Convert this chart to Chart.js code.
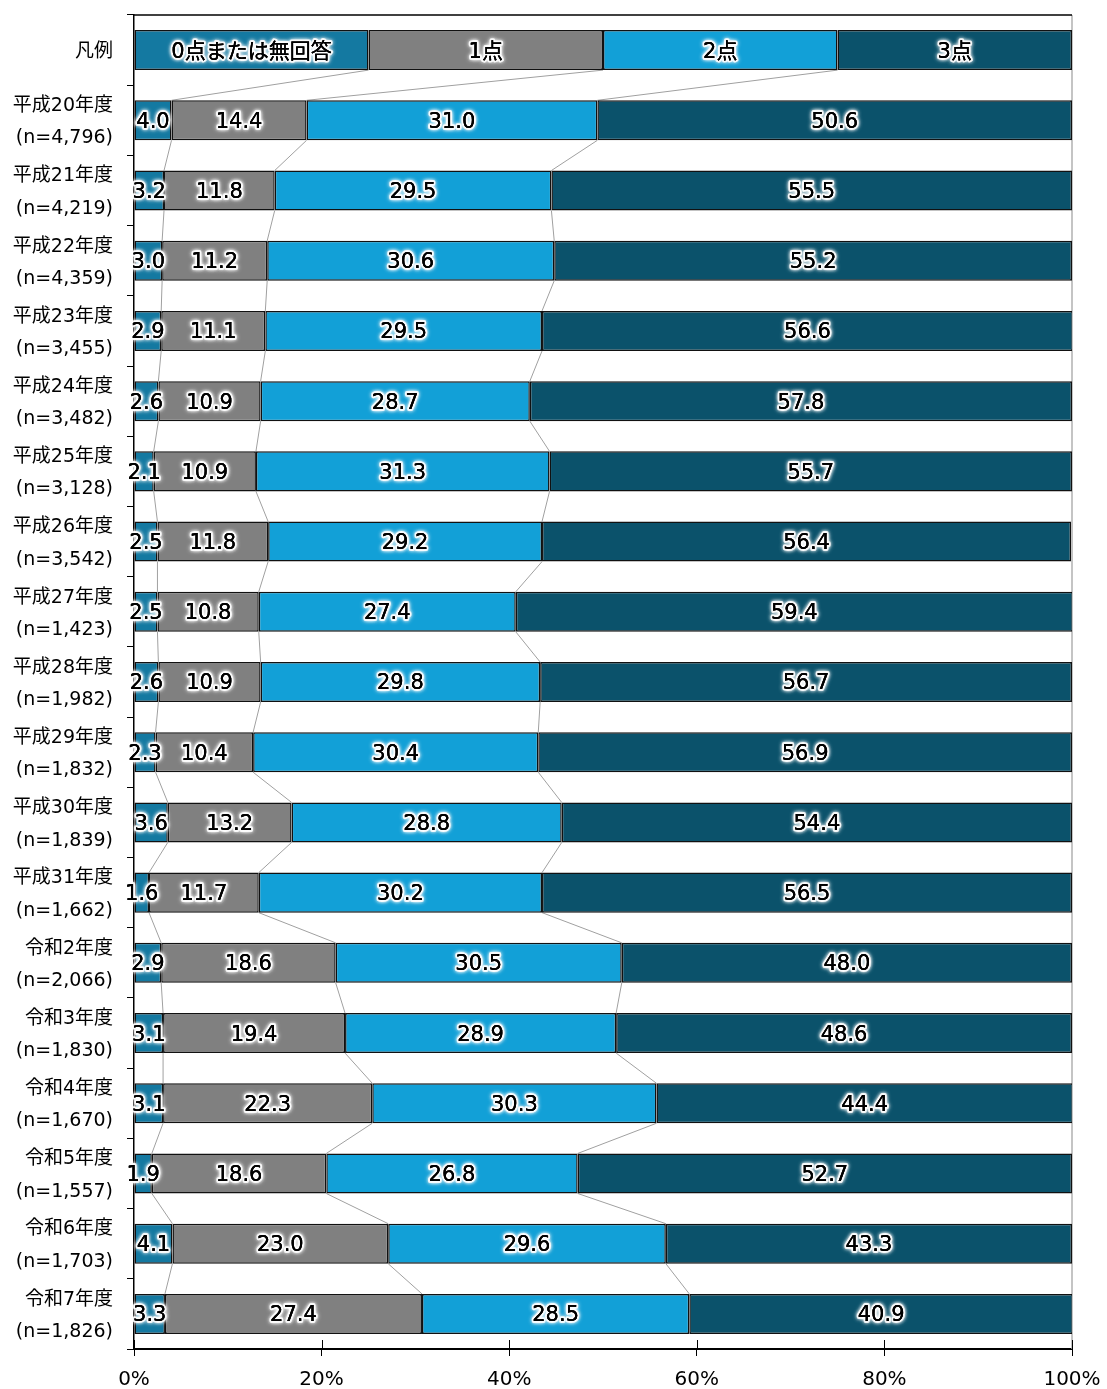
<!DOCTYPE html>
<html>
<head>
<meta charset="utf-8">
<script src="https://cdn.jsdelivr.net/npm/chart.js@4.4.0/dist/chart.umd.min.js"></script>
<style>
    body { margin: 0; background: #fff; }
</style>
</head>
<body>
<canvas id="scoreChart" width="1107" height="1389"></canvas>
<script>
// row names and sample sizes
var periods = ['平成20年度', '平成21年度', '平成22年度', '平成23年度', '平成24年度', '平成25年度',
    '平成26年度', '平成27年度', '平成28年度', '平成29年度', '平成30年度', '平成31年度',
    '令和2年度', '令和3年度', '令和4年度', '令和5年度', '令和6年度', '令和7年度'];
var sampleSizes = ['4,796', '4,219', '4,359', '3,455', '3,482', '3,128', '3,542', '1,423', '1,982',
    '1,832', '1,839', '1,662', '2,066', '1,830', '1,670', '1,557', '1,703', '1,826'];

var seriesNames = ['0点または無回答', '1点', '2点', '3点'];
var legendRowLabel = '凡例';
var legendRowValues = [25, 25, 25, 25];

var score0 = [4.0, 3.2, 3.0, 2.9, 2.6, 2.1, 2.5, 2.5, 2.6, 2.3, 3.6, 1.6, 2.9, 3.1, 3.1, 1.9, 4.1, 3.3];
var score1 = [14.4, 11.8, 11.2, 11.1, 10.9, 10.9, 11.8, 10.8, 10.9, 10.4, 13.2, 11.7, 18.6, 19.4, 22.3, 18.6, 23.0, 27.4];
var score2 = [31.0, 29.5, 30.6, 29.5, 28.7, 31.3, 29.2, 27.4, 29.8, 30.4, 28.8, 30.2, 30.5, 28.9, 30.3, 26.8, 29.6, 28.5];
var score3 = [50.6, 55.5, 55.2, 56.6, 57.8, 55.7, 56.4, 59.4, 56.7, 56.9, 54.4, 56.5, 48.0, 48.6, 44.4, 52.7, 43.3, 40.9];

var xTicks = [0, 20, 40, 60, 80, 100];

var colors = ['#1479a1', '#808080', '#12a0d7', '#0b526b'];
var fontFamily = '"DejaVu Sans", "Noto Sans CJK JP", sans-serif';

var labels = [legendRowLabel].concat(periods.map(function (p, i) {
    return [p, '(n=' + sampleSizes[i] + ')'];
}));

var allScores = [score0, score1, score2, score3];
var datasets = allScores.map(function (arr, s) {
    return {
        label: seriesNames[s],
        data: [legendRowValues[s]].concat(arr),
        backgroundColor: colors[s],
        borderColor: '#111',
        borderWidth: 1.5,
        borderSkipped: false,
        barPercentage: 0.57,
        categoryPercentage: 1.0
    };
});

// gray lines between bars + frame
var connectorPlugin = {
    id: 'connectors',
    beforeDatasetsDraw: function (chart) {
        var ctx = chart.ctx;
        var area = chart.chartArea;
        ctx.save();
        ctx.strokeStyle = '#b0b0b0';
        ctx.lineWidth = 1.5;
        ctx.beginPath();
        ctx.moveTo(area.right, area.top);
        ctx.lineTo(area.right, area.bottom);
        ctx.stroke();

        ctx.strokeStyle = '#000';
        ctx.lineWidth = 1.5;
        ctx.beginPath();
        ctx.moveTo(area.left, area.top);
        ctx.lineTo(area.right, area.top);
        ctx.stroke();

        ctx.strokeStyle = '#a0a0a0';
        ctx.lineWidth = 1;
        for (var s = 0; s < 3; s++) {
            var bars = chart.getDatasetMeta(s).data;
            for (var r = 0; r < bars.length - 1; r++) {
                var a = bars[r].getProps(['x', 'y', 'height'], true);
                var b = bars[r + 1].getProps(['x', 'y', 'height'], true);
                ctx.beginPath();
                ctx.moveTo(a.x, a.y + a.height / 2);
                ctx.lineTo(b.x, b.y - b.height / 2);
                ctx.stroke();
            }
        }
        ctx.restore();
    },
    afterDraw: function (chart) {
        // small ticks crossing the x axis upward
        var ctx = chart.ctx;
        var xs = chart.scales.x;
        var bottom = chart.chartArea.bottom;
        ctx.save();
        ctx.strokeStyle = '#000';
        ctx.lineWidth = 1;
        xTicks.forEach(function (v) {
            var px = Math.round(xs.getPixelForValue(v)) + 0.5;
            ctx.beginPath();
            ctx.moveTo(px, bottom);
            ctx.lineTo(px, bottom - 9);
            ctx.stroke();
        });
        ctx.restore();
    }
};

// value labels with white glow
var valueLabelPlugin = {
    id: 'valueLabels',
    afterDatasetsDraw: function (chart) {
        var ctx = chart.ctx;
        ctx.save();
        ctx.font = '21px ' + fontFamily;
        ctx.textAlign = 'center';
        ctx.textBaseline = 'middle';
        chart.data.datasets.forEach(function (ds, s) {
            chart.getDatasetMeta(s).data.forEach(function (bar, r) {
                var p = bar.getProps(['x', 'y', 'base'], true);
                var cx = (p.x + p.base) / 2;
                var text = r === 0 ? seriesNames[s] : ds.data[r].toFixed(1);
                ctx.shadowColor = '#fff';
                ctx.shadowBlur = 4;
                ctx.fillStyle = '#000';
                ctx.strokeStyle = 'rgba(255,255,255,0.9)';
                ctx.lineWidth = 4;
                ctx.lineJoin = 'round';
                ctx.strokeText(text, cx, p.y + 2);
                for (var k = 0; k < 3; k++) {
                    ctx.fillText(text, cx, p.y + 2);
                }
                ctx.shadowBlur = 0;
                ctx.fillText(text, cx, p.y + 2);
            });
        });
        ctx.restore();
    }
};

new Chart(document.getElementById('scoreChart').getContext('2d'), {
    type: 'bar',
    data: {
        labels: labels,
        datasets: datasets
    },
    options: {
        indexAxis: 'y',
        responsive: false,
        animation: false,
        layout: {
            padding: { top: 15, right: 35, left: 0, bottom: 0 }
        },
        plugins: {
            legend: { display: false },
            tooltip: { enabled: false }
        },
        scales: {
            x: {
                stacked: true,
                min: 0,
                max: 100,
                afterBuildTicks: function (scale) {
                    scale.ticks = xTicks.map(function (v) { return { value: v }; });
                },
                afterFit: function (scale) {
                    scale.height = 40;
                    scale.paddingLeft = 0;
                    scale.paddingRight = 0;
                },
                grid: {
                    drawOnChartArea: false,
                    color: '#000',
                    tickLength: 7
                },
                border: { color: '#000', width: 2 },
                ticks: {
                    color: '#000',
                    padding: 12,
                    maxRotation: 0,
                    font: { family: fontFamily, size: 20 },
                    callback: function (v) { return v + '%'; }
                }
            },
            y: {
                stacked: true,
                afterFit: function (scale) {
                    scale.width = 134;
                    scale.paddingTop = 0;
                    scale.paddingBottom = 0;
                },
                grid: {
                    drawOnChartArea: false,
                    color: '#000',
                    tickLength: 7,
                    offset: true
                },
                border: { color: '#000', width: 1.5 },
                ticks: {
                    color: '#000',
                    padding: 14,
                    labelOffset: 2,
                    font: { family: fontFamily, size: 19, lineHeight: 1.7 }
                }
            }
        }
    },
    plugins: [connectorPlugin, valueLabelPlugin]
});
</script>
</body>
</html>
